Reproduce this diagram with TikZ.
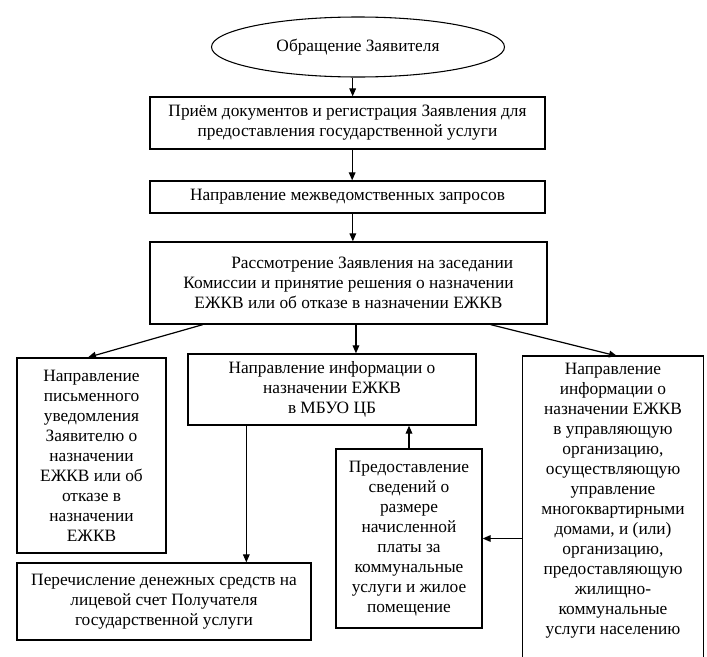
\documentclass[tikz,border=0pt]{standalone}
\usepackage{fontspec}
\setmainfont{Liberation Serif}
\usetikzlibrary{arrows.meta,positioning,shapes.geometric}

\begin{document}
\begin{tikzpicture}[
    x=0.75pt, y=-0.75pt,
    font=\fontsize{13}{15}\selectfont,
    block/.style={rectangle, draw, line width=1pt, align=center, inner sep=2pt},
    arrow/.style={-{Triangle[length=6pt,width=5pt]}, line width=0.9pt}
]
    \clip (0,0) rectangle (707,657);
    \node[ellipse, draw, line width=0.8pt, minimum width=219.75pt, minimum height=45pt] (ell) at (358,47) {Обращение Заявителя};
    \node[block, minimum width=296.25pt, minimum height=39pt] (recv) at (347.5,123) {Приём документов и регистрация Заявления для\\предоставления государственной услуги};
    \node[block, minimum width=296.25pt, minimum height=24pt] (req) at (347.5,197) {Направление межведомственных запросов};
    \node[block, minimum width=297.75pt, minimum height=61.5pt] (review) at (348.5,283) {\hspace*{1.25cm}Рассмотрение Заявления на заседании\\Комиссии и принятие решения о назначении\\ЕЖКВ или об отказе в назначении ЕЖКВ};
    \node[block, minimum width=111.75pt, minimum height=146.25pt] (notify) at (91.5,455.5) {Направление\\письменного\\уведомления\\Заявителю о\\назначении\\ЕЖКВ или об\\отказе в\\назначении\\ЕЖКВ};
    \node[block, minimum width=216pt, minimum height=53.25pt] (mbuo) at (332,389.5) {Направление информации о\\назначении ЕЖКВ\\в МБУО ЦБ};
    \node[block, draw=none, anchor=north, minimum width=135pt, inner ysep=5pt] (uk) at (613,356) {Направление\\информации о\\назначении ЕЖКВ\\в управляющую\\организацию,\\осуществляющую\\управление\\многоквартирными\\домами, и (или)\\организацию,\\предоставляющую\\жилищно-\\коммунальные\\услуги населению};
    \draw[line width=1pt] (uk.north west) rectangle ([yshift=-40pt]uk.south east);
    \node[block, minimum width=220.5pt, minimum height=57.75pt] (pay) at (164,601.5) {Перечисление денежных средств на\\лицевой счет Получателя\\государственной услуги};
    \node[block, minimum width=109.5pt, minimum height=134.25pt] (info) at (409,538.5) {Предоставление\\сведений о\\размере\\начисленной\\платы за\\коммунальные\\услуги и жилое\\помещение};
    \draw[arrow] ([xshift=-4pt]ell.south) -- ([xshift=-4pt]ell.south |- recv.north);
    \draw[arrow] ([xshift=3.5pt]recv.south) -- ([xshift=3.5pt]recv.south |- req.north);
    \draw[arrow] ([xshift=4pt]req.south) -- ([xshift=4pt]req.south |- review.north);
    \draw[arrow] ([xshift=5.6pt]review.south) -- ([xshift=5.6pt]review.south |- mbuo.north);
    \draw[arrow] ([xshift=40pt]review.south west) -- ([xshift=-2.6pt]notify.north);
    \draw[arrow] ([xshift=-42.75pt]review.south east) -- ([xshift=3pt]uk.north);
    \draw[arrow] ([xshift=44.25pt]mbuo.south west) -- ([xshift=44.25pt]mbuo.south west |- pay.north);
    \draw[arrow] (info.north) -- (info.north |- mbuo.south);
    \draw[arrow] (info.east -| uk.west) -- (info.east);
\end{tikzpicture}
\end{document}
